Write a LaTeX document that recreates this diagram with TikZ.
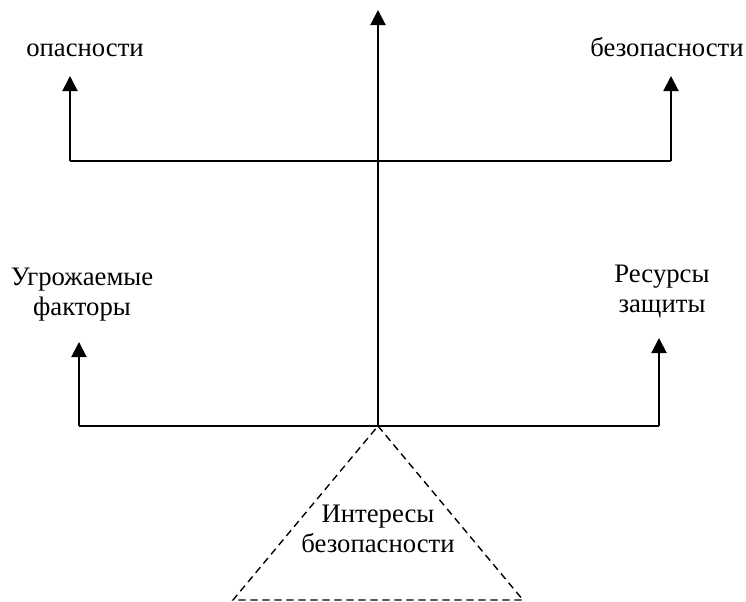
\documentclass[tikz,border=0pt]{standalone}
\usepackage{fontspec}
\setmainfont{Liberation Serif}
\usetikzlibrary{arrows.meta}

\begin{document}
\begin{tikzpicture}[line width=1.4pt,
    >={Triangle[length=0.38cm,width=0.38cm]},
    lbl/.style={anchor=base,align=center,font=\fontsize{19}{22}\selectfont}]
			\useasboundingbox (0,0) rectangle (18.65,15.05);
			% junction points
			\coordinate (base) at (9.45,4.4);
			\coordinate (top) at (9.45,14.8);
			\coordinate (midL) at (1.75,11.025);
			\coordinate (midR) at (16.775,11.025);
			\coordinate (midC) at (9.45,11.025);
			\coordinate (lowL) at (1.975,4.4);
			\coordinate (lowR) at (16.475,4.4);
			\coordinate (tipA) at (1.75,13.15);
			\coordinate (tipB) at (16.775,13.15);
			\coordinate (tipC) at (1.975,6.5);
			\coordinate (tipD) at (16.475,6.6);
			\coordinate (triL) at (5.825,0.05);
			\coordinate (triR) at (13.075,0.05);
			% texts (base = last line)
			\node[lbl] (danger) at (2.125,13.625) {опасности};
			\node[lbl] (safety) at (16.675,13.625) {безопасности};
			\node[lbl] (threat) at (2.05,7.15) {Угрожаемые\\факторы};
			\node[lbl] (res) at (16.55,7.225) {Ресурсы\\защиты};
			\node[lbl] (inter) at (9.45,1.225) {Интересы\\безопасности};
			% lines
			\draw[->] (base)--(top);
			\draw (midL)--(midR);
			\draw[->] (midL)--(tipA);
			\draw[->] (midR)--(tipB);
			\draw (lowL)--(lowR);
			\draw[->] (lowL)--(tipC);
			\draw[->] (lowR)--(tipD);
			\draw[line width=1pt,dash pattern=on 0.18cm off 0.12cm] (base)--(triR)--(triL)--cycle;
			\end{tikzpicture}
\end{document}
